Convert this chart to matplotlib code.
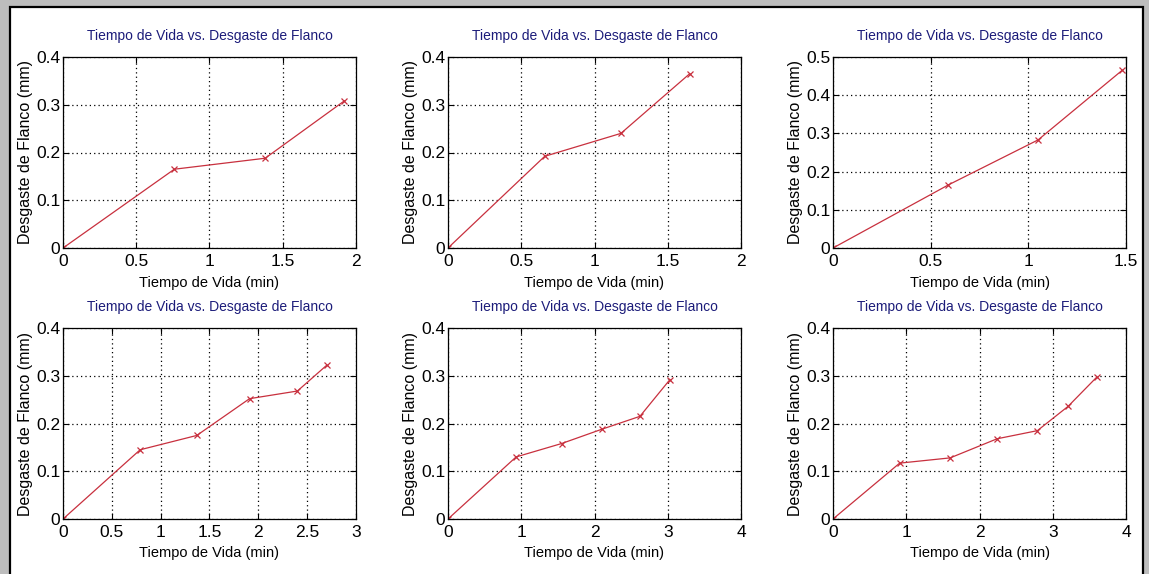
import matplotlib.pyplot as plt
from matplotlib.patches import Rectangle

TITLE = 'Tiempo de Vida vs. Desgaste de Flanco'
XLABEL = 'Tiempo de Vida (min)'
YLABEL = 'Desgaste de Flanco (mm)'

# tiempo de vida (min) / desgaste (mm) para cada ensayo
t1 = [0, 0.76, 1.38, 1.92]
vb1 = [0, 0.165, 0.188, 0.308]
t2 = [0, 0.66, 1.18, 1.65]
vb2 = [0, 0.192, 0.240, 0.365]
t3 = [0, 0.59, 1.05, 1.48]
vb3 = [0, 0.165, 0.283, 0.465]
t4 = [0, 0.79, 1.37, 1.91, 2.40, 2.70]
vb4 = [0, 0.145, 0.175, 0.252, 0.268, 0.322]
t5 = [0, 0.93, 1.55, 2.10, 2.62, 3.03]
vb5 = [0, 0.130, 0.158, 0.188, 0.215, 0.292]
t6 = [0, 0.91, 1.60, 2.24, 2.79, 3.21, 3.60]
vb6 = [0, 0.117, 0.128, 0.168, 0.185, 0.236, 0.297]

xlims = [2, 2, 1.5, 3, 4, 4]
ylims = [0.4, 0.4, 0.5, 0.4, 0.4, 0.4]
xticks = [[0, 0.5, 1, 1.5, 2], [0, 0.5, 1, 1.5, 2], [0, 0.5, 1, 1.5],
          [0, 0.5, 1, 1.5, 2, 2.5, 3], [0, 1, 2, 3, 4], [0, 1, 2, 3, 4]]
yticks = [[0, 0.1, 0.2, 0.3, 0.4], [0, 0.1, 0.2, 0.3, 0.4], [0, 0.1, 0.2, 0.3, 0.4, 0.5],
          [0, 0.1, 0.2, 0.3, 0.4], [0, 0.1, 0.2, 0.3, 0.4], [0, 0.1, 0.2, 0.3, 0.4]]

FONT = ['Liberation Sans Narrow', 'Liberation Sans', 'DejaVu Sans']
plt.rcParams['font.family'] = FONT


def fmt(v):
    return ('%g' % v)


def main():
    W, H = 1149, 574
    fig = plt.figure(figsize=(W / 100, H / 100), dpi=100, facecolor='#bdbdbd')
    # marco blanco con borde negro
    frame = Rectangle((10 / W, -0.02), 1133 / W, 1 - 7 / H + 0.02,
                      transform=fig.transFigure, facecolor='white',
                      edgecolor='black', linewidth=1.6, zorder=-10)
    fig.patches.append(frame)

    lefts = [63, 448, 833]
    tops = [57, 328]
    aw, ah = 293, 191
    data = [(t1, vb1), (t2, vb2), (t3, vb3), (t4, vb4), (t5, vb5), (t6, vb6)]

    for i, (t, vb) in enumerate(data):
        r, c = divmod(i, 3)
        ax = fig.add_axes([lefts[c] / W, 1 - (tops[r] + ah) / H, aw / W, ah / H])
        ax.plot(t, vb, color='#c8303e', linewidth=0.9, marker='x',
                markersize=5, markeredgewidth=0.9)
        ax.set_xlim(0, xlims[i])
        ax.set_ylim(0, ylims[i])
        ax.set_xticks(xticks[i])
        ax.set_yticks(yticks[i])
        ax.set_xticklabels([fmt(v) for v in xticks[i]])
        ax.set_yticklabels([fmt(v) for v in yticks[i]])
        ax.grid(True, linestyle=(0, (1, 2.5)), color='black', linewidth=0.9)
        ax.tick_params(direction='in', length=4, width=0.8, labelsize=12.5,
                       top=True, right=True)
        ax.tick_params(axis='x', pad=4)
        ax.tick_params(axis='y', pad=2)
        for s in ax.spines.values():
            s.set_linewidth(0.9)
        ax.set_title(TITLE, color='#1c1c7a', fontsize=10, pad=12)
        ax.set_xlabel(XLABEL, fontsize=10.5, labelpad=5)
        ax.set_ylabel(YLABEL, fontsize=11.5, labelpad=2)

    fig.savefig('out.png', dpi=100, facecolor=fig.get_facecolor())


if __name__ == '__main__':
    main()
